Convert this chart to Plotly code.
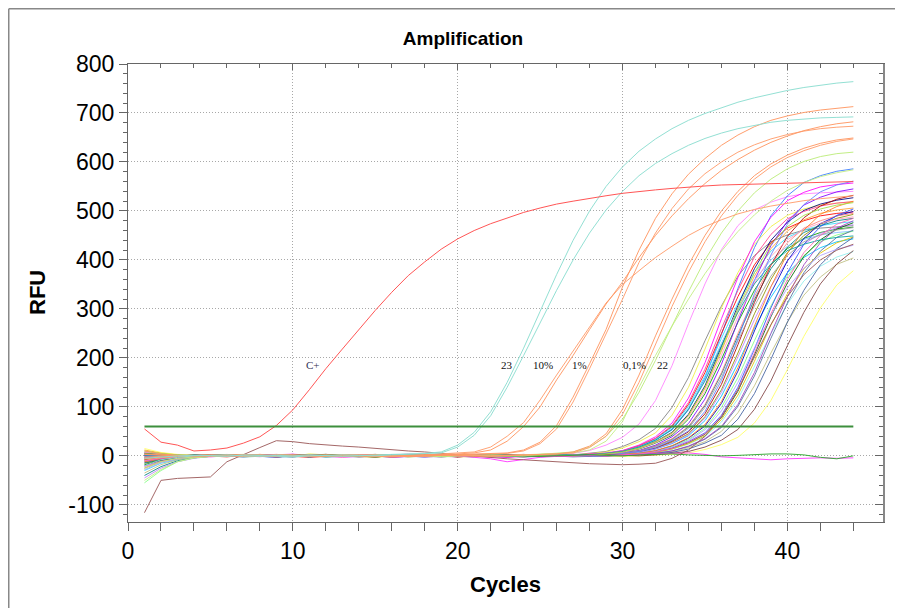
import plotly.graph_objects as go

cycles = list(range(1, 45))
threshold = 60

# ---- labelled reactions ----
c_plus = [55,28,22,10,12,16,26,39,62,94,135,178,218,258,297,334,368,396,422,443,460,474,486,497,506,514,520,526,531,536,540,543,546,549,551,553,554,555,556,557,558,558,559,560]
teal_a = [-20,-8,-3,0,1,2,0,-1,1,0,2,1,-1,0,2,3,4,5,8,22,48,90,150,220,295,370,440,500,550,590,622,647,668,685,699,711,722,731,739,746,752,757,761,764]
teal_b = [-5,-2,0,1,0,-1,2,1,0,-2,0,1,2,1,0,2,3,4,6,18,42,82,140,205,272,338,400,455,502,540,572,597,617,634,648,659,668,675,681,685,688,690,691,692]
pct10_a = [10,4,1,-1,0,2,1,-1,0,1,2,0,-1,1,2,0,1,3,2,4,6,12,30,60,100,155,205,258,310,355,405,450,490,525,556,583,605,624,640,653,664,672,678,682]
pct10_b = [-6,-3,-1,0,1,-1,0,2,1,0,-1,1,0,2,1,-1,0,2,3,5,8,18,40,68,114,165,215,263,312,350,378,405,428,450,468,482,494,503,510,516,521,525,528,531]
pct1_a = [3,1,0,-2,0,1,2,0,-1,1,0,-1,2,1,0,-2,-1,0,1,2,3,4,6,12,28,62,120,188,258,345,420,485,535,575,607,634,655,672,685,694,701,706,710,713]
pct1_b = [-9,-4,-1,0,2,1,-1,0,1,2,0,1,-1,0,2,1,0,-1,1,2,2,3,5,10,25,55,110,178,248,320,395,455,505,545,576,600,620,635,647,656,663,668,671,673]
pct01_a = [4,2,0,-1,1,0,2,1,-1,0,1,2,0,-1,-2,0,1,0,2,1,-1,0,1,2,3,4,8,20,45,95,165,245,320,390,450,500,540,572,596,614,628,638,645,649]
pct01_b = [-3,-1,1,0,-1,2,1,0,-2,0,1,0,2,1,-1,0,-1,1,2,0,1,-1,0,2,3,4,6,17,40,85,150,228,305,375,437,490,532,565,590,609,623,634,642,647]
green_a = [-25,-12,-5,-2,0,1,-1,0,2,1,0,-1,1,2,0,-1,0,1,-2,0,1,2,1,0,3,5,8,18,40,75,130,195,265,335,400,455,500,537,565,586,601,611,617,620]
green_22 = [-50,-28,-12,-4,-1,0,1,2,0,-1,1,0,2,1,-1,0,1,0,-1,2,1,0,1,2,3,4,6,12,30,70,140,205,265,320,372,418,458,492,520,542,558,570,578,584]
brown_odd = [-116,-50,-46,-45,-43,-12,3,17,31,29,25,22,20,18,15,12,10,8,5,3,0,-3,-6,-8,-10,-13,-14,-16,-17,-18,-17,-15,-5,12,40,80,135,200,268,325,370,400,420,432]
neg_magenta = [-10,-5,-2,0,1,0,-1,1,2,0,-1,1,0,2,1,-1,0,-2,-1,0,-3,-6,-12,-8,-3,-1,0,1,0,2,3,4,5,6,3,-2,-4,-6,-8,-6,-5,-4,-5,-4]
neg_green = [5,2,0,-1,1,2,0,-1,0,1,2,1,0,-1,0,1,2,0,-1,1,0,2,1,0,-1,0,1,2,1,0,2,3,4,2,1,0,1,3,4,4,2,-3,-6,0]

# ---- sample cluster ----
s01 = [-12,-6,-3,0,2,1,-1,2,0,-2,1,3,0,-1,2,1,-2,0,1,-1,2,0,-3,1,0,-1,2,5,9,19,33,56,99,160,235,306,367,409,437,451,461,465,468,470]
s02 = [8,3,-2,-4,1,3,0,-2,2,4,0,3,2,-2,-1,1,4,2,0,-2,1,3,2,0,1,3,5,11,22,38,65,113,184,270,351,421,470,502,518,529,535,537,539,540]
s03 = [-20,-10,-5,-2,1,0,2,-1,-3,0,1,-2,0,1,3,0,-1,-2,1,0,2,1,-1,0,2,1,-1,0,5,9,18,32,53,94,159,248,342,425,490,531,558,572,581,586]
s04 = [5,2,0,-3,-1,2,3,0,-2,-1,4,2,0,-1,-3,0,2,3,1,-2,-1,0,2,1,-1,0,2,4,8,16,29,47,83,140,218,302,374,432,468,491,504,512,516,519]
s05 = [-8,-4,-1,1,0,-2,1,3,1,-1,-3,-1,2,0,1,-2,-1,2,3,0,-1,1,0,-2,1,3,1,3,5,10,20,35,60,105,170,250,325,390,435,465,480,490,495,498]
s06 = [2,1,-1,0,-2,0,2,1,0,-1,2,0,-3,-1,1,2,0,-1,0,3,1,-2,-3,-1,0,2,1,3,6,11,22,39,67,118,190,280,364,437,487,521,538,549,554,557]
s07 = [-30,-15,-8,-3,0,1,-1,2,1,0,0,1,2,-1,0,1,-1,0,2,1,0,-1,1,2,0,-1,1,3,5,10,19,34,58,101,163,240,312,374,418,446,461,470,475,478]
s08 = [0,-2,-3,-1,1,2,0,-1,1,3,0,-2,-1,1,0,2,1,-1,-2,0,1,3,2,0,-1,1,0,-1,4,8,16,29,48,85,143,223,307,382,440,477,501,514,522,527]
s09 = [-15,-8,-4,-1,0,2,1,-1,0,1,2,3,1,0,-2,0,1,2,0,-1,-2,0,1,1,-1,0,2,1,4,7,14,26,42,75,127,197,273,338,390,423,444,456,463,467]
s10 = [12,6,2,0,-1,1,0,2,-1,-2,1,-1,0,2,3,1,-1,0,1,-2,-1,1,2,0,-1,0,1,2,4,8,15,28,46,82,138,214,296,367,423,459,482,495,502,506]
s11 = [-5,-3,0,1,-1,0,2,1,-2,0,0,-1,2,1,0,-3,-1,0,2,1,-1,0,1,3,1,-1,0,1,3,6,11,22,39,66,116,187,275,358,429,479,512,528,539,545]
s12 = [-40,-22,-10,-4,-1,1,0,-1,1,2,-2,1,0,-1,2,1,0,-2,-1,1,0,2,1,-1,0,1,2,0,2,5,10,20,34,59,103,167,245,319,382,426,456,470,480,485]
s13 = [3,1,-2,-1,0,1,2,0,-1,-3,2,0,1,-1,0,2,1,-2,0,1,-1,0,2,0,-1,1,0,2,5,9,18,32,55,97,156,230,299,359,400,428,442,451,456,459]
s14 = [-2,-1,1,2,0,-1,0,1,3,1,-1,1,2,0,-1,0,1,3,2,0,-1,-2,0,1,0,-1,2,3,5,10,21,36,62,109,177,260,338,406,452,484,499,510,516,519]
s15 = [-25,-12,-6,-2,0,1,-1,0,2,1,0,1,2,0,-1,-2,0,1,0,2,1,-1,0,1,-1,0,2,1,0,4,8,15,28,45,80,135,210,290,360,415,450,473,485,493]
s16 = [1,0,-1,2,1,-1,0,1,-2,0,2,0,-1,1,0,2,1,-1,0,-2,0,1,2,0,-1,1,0,-1,1,4,8,16,30,49,86,146,227,313,389,448,486,510,524,532]
s17 = [-10,-6,-2,0,1,0,-1,1,2,0,-2,0,1,0,2,1,-1,0,1,-1,0,2,1,0,-2,0,1,0,-1,4,7,14,25,41,72,122,189,261,324,374,405,425,437,443]
s18 = [-45,-25,-12,-5,-1,0,2,1,-1,0,-1,0,2,1,0,-1,1,0,-2,0,1,2,0,-1,1,0,-1,2,1,4,7,14,26,43,77,130,202,278,346,398,432,454,466,472]
s19 = [6,3,0,-1,1,2,0,-1,-2,0,0,2,1,-1,0,1,-1,0,2,0,-1,1,0,-2,-1,0,1,2,0,3,5,10,20,36,61,107,173,255,332,398,444,474,490,499]
s20 = [-55,-30,-12,-4,-1,1,0,2,1,-1,1,-2,0,1,2,0,-1,1,0,2,1,-1,0,-2,0,1,2,1,0,2,5,9,19,33,56,99,160,235,306,367,409,437,451,459]
s21 = [0,-1,1,0,2,1,-1,0,1,2,-1,0,1,2,1,0,-1,1,0,2,1,-1,0,1,0,-1,1,2,3,5,10,20,35,60,105,170,250,325,390,435,465,480,490,495]
s22 = [-18,-9,-4,-1,0,1,2,0,-1,1,-1,1,2,0,-2,0,1,0,-1,1,2,0,-1,0,1,-1,0,2,1,0,4,7,15,27,44,78,132,206,284,353,407,441,463,476]
s23 = [-3,-2,0,1,0,-1,1,2,0,-1,0,1,0,2,1,-1,0,1,0,-1,2,1,0,-1,0,1,2,0,-1,1,4,8,16,29,47,83,140,218,302,374,432,468,491,504]
s24 = [9,4,1,0,-1,0,2,1,-1,0,0,-2,-1,1,2,0,1,-1,0,2,0,-1,1,0,-1,2,1,0,1,0,3,6,13,24,39,69,116,181,249,310,357,387,406,417]
s25 = [-6,-3,-1,0,2,1,0,-1,1,0,1,-1,0,-2,0,1,2,0,-1,1,0,2,1,0,-1,0,1,-1,0,2,4,7,14,25,41,74,124,193,267,331,382,414,435,447]
s26 = [1,0,-2,-1,0,1,0,2,1,-1,1,2,0,-1,-2,0,1,1,0,-1,2,0,1,-1,0,2,1,0,-1,0,2,5,10,19,34,58,101,163,240,312,374,418,446,461]
s27 = [-35,-18,-8,-3,-1,0,1,-1,0,2,0,-1,1,0,2,-1,0,1,0,2,1,-1,0,1,0,-1,2,0,1,-1,2,4,8,17,29,50,88,143,210,273,328,365,391,404]
s28 = [4,2,0,-1,1,0,-2,0,1,2,-1,0,1,-1,0,2,1,0,-1,-2,0,1,2,1,0,-1,0,1,2,0,3,5,10,20,35,60,105,170,250,325,390,435,465,480]
s29 = [-14,-7,-3,0,1,0,-1,1,2,0,0,1,0,-2,-1,1,2,0,1,-1,0,1,0,2,1,-1,-2,-1,0,1,2,4,7,14,26,42,75,127,197,273,338,390,423,446]
s30 = [15,7,3,1,0,-1,1,0,2,1,-1,0,-2,0,1,2,1,0,-1,0,1,-1,0,2,1,0,-1,1,0,-1,0,1,3,6,13,23,38,67,113,176,244,302,349,378]
s31 = [-28,-14,-6,-2,0,1,0,-1,1,0,1,0,-1,-2,0,1,0,2,1,-1,0,1,2,0,-1,0,1,-1,0,2,4,9,18,31,53,92,150,220,286,343,383,409,422,430]
s32 = [7,3,1,0,-1,0,2,1,-1,0,2,0,-1,1,0,-2,-1,0,1,2,0,1,-1,0,2,1,0,-1,4,7,15,27,44,78,132,206,284,353,407,441,463,475,483,488]
s33 = [-3,0,2,1,-1,0,1,2,0,-2,1,0,2,1,0,-1,0,2,1,0,-1,1,2,0,1,-1,0,1,2,5,9,19,33,56,99,160,235,306,367,409,437,451,461,466]
s34 = [-12,-6,-2,0,1,2,0,-1,1,0,0,1,2,1,-1,0,1,0,2,1,0,-1,1,2,0,-1,0,1,2,3,5,11,21,37,64,111,180,265,345,413,461,493,509,520]
s35 = [1,0,-1,2,1,0,-2,-1,0,1,1,0,-1,1,0,2,1,-1,0,1,2,0,-1,0,1,2,1,2,5,9,18,32,54,95,153,225,293,351,392,419,432,441,446,449]
s36 = [-22,-11,-5,-1,0,1,2,0,-1,1,2,1,-1,0,1,-2,0,1,2,0,-1,1,0,2,1,0,-1,1,0,2,4,8,15,28,45,80,135,210,290,360,415,450,473,485]
s37 = [2,1,0,-1,1,2,0,-1,-2,0,2,1,0,-1,1,0,2,0,-1,1,0,-2,0,1,2,1,0,-1,1,5,9,17,31,51,91,154,239,331,410,473,513,539,553,561]
s38 = [-8,-4,-1,0,2,1,0,-1,1,0,-1,2,1,0,-2,0,1,2,0,-1,1,0,2,1,-1,0,1,0,2,1,0,2,5,9,18,32,54,95,153,225,293,351,392,419]
s39 = [10,5,2,0,-1,1,2,0,-1,0,0,2,1,-1,0,1,-2,0,1,2,1,0,-1,0,1,2,0,1,4,8,16,29,47,83,140,218,302,374,432,468,491,504,512,517]

cluster = [s01,s02,s03,s04,s05,s06,s07,s08,s09,s10,s11,s12,s13,s14,s15,s16,s17,s18,s19,s20,
           s21,s22,s23,s24,s25,s26,s27,s28,s29,s30,s31,s32,s33,s34,s35,s36,s37,s38,s39]
cluster_colors = ["#808080","#ff80ff","#3377ff","#f0f040","#ff0000","#ff00ff","#33ddff","#000080",
                  "#00a000","#ffa030","#8000ff","#008080","#80c0ff","#ff4090","#909000","#b00000",
                  "#00c0ff","#c080ff","#0000c0","#80ff80","#ff8080","#006400","#3050ff","#90f0f0",
                  "#e0c000","#5070a0","#c0c080","#a040c0","#4060a0","#ffff60","#b0a0ff","#ffa0c0",
                  "#a0a0a0","#ff8020","#00a0a0","#ff60b0","#6080ff","#804040","#a0e040"]

labels = ["C+", "23", "10%", "1%", "0,1%", "22"]
label_x = [11.2, 23.0, 25.2, 27.4, 30.7, 32.4]
label_y = [186, 186, 186, 186, 186, 186]

y_tickvals = [-100, 0, 100, 200, 300, 400, 500, 600, 700, 800]
y_ticktext = ["-100", "0", "100", "200", "300", "400", "500", "600", "700", "800"]

special = [
    (neg_magenta, "#ff40ff"), (neg_green, "#33aa33"), (brown_odd, "#a06060"),
    (green_22, "#c8f08c"), (green_a, "#c0ee80"),
    (pct01_b, "#ffa070"), (pct01_a, "#ff9a66"),
    (pct1_b, "#ffa070"), (pct1_a, "#ff9a66"),
    (pct10_b, "#ffa070"), (pct10_a, "#ff9a66"),
    (teal_b, "#8edfd2"), (teal_a, "#8edfd2"),
    (c_plus, "#ff4d4d"),
]

fig = go.Figure()
for vals, col in zip(cluster, cluster_colors):
    assert len(vals) == 44, len(vals)
    fig.add_trace(go.Scatter(x=cycles, y=vals, mode="lines", line=dict(color=col, width=1),
                             opacity=0.85, hoverinfo="skip", showlegend=False))
for vals, col in special:
    assert len(vals) == 44, len(vals)
    fig.add_trace(go.Scatter(x=cycles, y=vals, mode="lines", line=dict(color=col, width=1),
                             opacity=0.95, hoverinfo="skip", showlegend=False))

fig.add_trace(go.Scatter(x=[cycles[0], cycles[-1]], y=[threshold, threshold], mode="lines",
                         line=dict(color="#3d8f3d", width=2), hoverinfo="skip", showlegend=False))
fig.add_trace(go.Scatter(x=[], y=[], xaxis="x2", yaxis="y2", showlegend=False))

axcol = "#666666"
font_family = "Liberation Sans, Arial, sans-serif"
XR = [0, 45.8]
YR = [-135, 800]
W, H = 895, 600          # page body adds an 8px offset
L, R, T, B = 120, 20, 56, 86
PW = W - L - R
PH = H - T - B
grid = dict(showgrid=True, gridcolor="#a8a8a8", griddash="1px,2px", gridwidth=1)

fig.update_layout(
    width=W, height=H,
    margin=dict(l=L, r=R, t=T, b=B),
    paper_bgcolor="white", plot_bgcolor="white",
    font=dict(family=font_family, color="black"),
    title=dict(text="<b>Amplification</b>", x=455/W, xanchor="center", xref="container",
               y=1 - 30/H, yanchor="middle", yref="container",
               font=dict(size=19, family=font_family, color="black")),
    xaxis=dict(range=XR, tick0=0, dtick=10, ticks="outside", ticklen=8, tickwidth=1, tickcolor=axcol,
               showline=True, linecolor=axcol, linewidth=1, zeroline=False, tickfont=dict(size=23),
               minor=dict(dtick=2, ticks="outside", ticklen=8, tickcolor=axcol, showgrid=False), **grid),
    yaxis=dict(range=YR, tickmode="array", tickvals=y_tickvals, ticktext=y_ticktext,
               ticks="outside", ticklen=8, tickwidth=1, tickcolor=axcol,
               showline=True, linecolor=axcol, linewidth=1, zeroline=False, tickfont=dict(size=23),
               minor=dict(dtick=20, tick0=0, ticks="outside", ticklen=4, tickcolor=axcol, showgrid=False), **grid),
    xaxis2=dict(range=XR, overlaying="x", side="top", anchor="y", tick0=0, dtick=10, ticks="inside",
                ticklen=6, tickcolor=axcol, showticklabels=False, showgrid=False, zeroline=False,
                showline=True, linecolor=axcol, linewidth=1,
                minor=dict(dtick=2, ticks="inside", ticklen=4, tickcolor=axcol, showgrid=False)),
    yaxis2=dict(range=YR, overlaying="y", side="right", anchor="x", tick0=0, dtick=100, ticks="inside",
                ticklen=8, tickcolor=axcol, showticklabels=False, showgrid=False, zeroline=False,
                showline=True, linecolor="#888888", linewidth=2,
                minor=dict(dtick=20, ticks="inside", ticklen=4, tickcolor=axcol, showgrid=False)),
)

for t, x, y in zip(labels, label_x, label_y):
    fig.add_annotation(x=x, y=y, text=t, showarrow=False, xanchor="center", yanchor="middle",
                       font=dict(family="Liberation Serif, Times New Roman, serif", size=11,
                                 color="#333355" if t == "C+" else "#111111"))

fig.add_annotation(text="<b>Cycles</b>", xref="paper", yref="paper", x=0.5, y=(514-576)/PH,
                   showarrow=False, xanchor="center", yanchor="middle",
                   font=dict(size=22, family=font_family, color="black"))
fig.add_annotation(text="<b>RFU</b>", xref="paper", yref="paper", x=(29-L)/PW, y=0.5,
                   showarrow=False, xanchor="center", yanchor="middle", textangle=-90,
                   font=dict(size=22, family=font_family, color="black"))

# outer frame (top and left edges)
fx = (0.75 - L)/PW
fy = 1 + (T - 0.75)/PH
fig.add_shape(type="line", xref="paper", yref="paper", x0=fx, x1=1.05, y0=fy, y1=fy,
              line=dict(color="#888888", width=1.5))
fig.add_shape(type="line", xref="paper", yref="paper", x0=fx, x1=fx, y0=-0.2, y1=fy,
              line=dict(color="#888888", width=1.5))

fig.write_html("out.html")
